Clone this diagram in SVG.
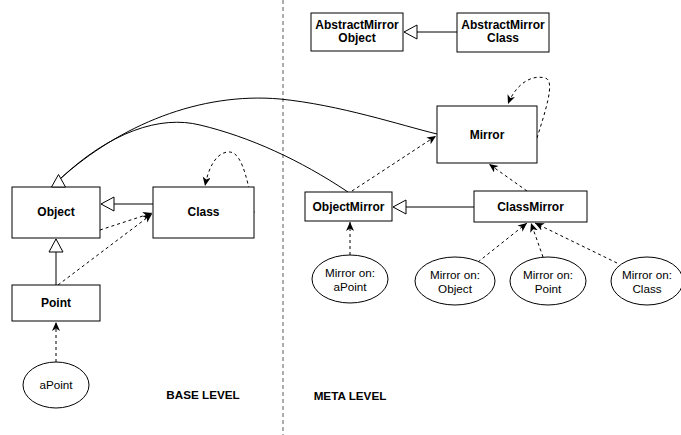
<svg xmlns="http://www.w3.org/2000/svg" width="681" height="435" viewBox="0 0 681 435">
<defs>
<style>
.box{fill:#fff;stroke:#000;stroke-width:1}
.t{font-family:"Liberation Sans",Arial,Helvetica,sans-serif;font-size:11.7px;fill:#000;text-anchor:middle}
.b{font-weight:bold;font-size:12px}
.lvl{font-weight:bold;font-size:11.7px}
.solid{fill:none;stroke:#000;stroke-width:1}
.dash{fill:none;stroke:#000;stroke-width:1;stroke-dasharray:3 3}
</style>
<marker id="tri" markerWidth="16" markerHeight="16" refX="14" refY="8" orient="auto" markerUnits="userSpaceOnUse"><path d="M1,1 L14,8 L1,15 z" fill="#fff" stroke="#000"/></marker>
<marker id="arr" markerWidth="10" markerHeight="10" refX="9" refY="4" orient="auto" markerUnits="userSpaceOnUse"><path d="M0,0 L9,4 L0,8 L2.5,4 z" fill="#000"/></marker>
</defs>
<rect width="681" height="435" fill="#fff"/>
<line x1="283" y1="0" x2="283" y2="435" stroke="#777" stroke-width="1.2" stroke-dasharray="4 3"/>
<g id="connectors">
<path class="solid" d="M60,179 C120,125 200,92 280,99 C340,105 400,125 437,134"/>
<path class="solid" d="M60,179 C110,132 160,115 200,125 C250,137 300,160 348,192"/>
<path class="solid" d="M56,285 L56,239" marker-end="url(#tri)"/>
<path class="solid" d="M153,204 L101,204" marker-end="url(#tri)"/>
<path class="solid" d="M457,32 L404,32" marker-end="url(#tri)"/>
<path class="solid" d="M474,207 L393,207" marker-end="url(#tri)"/>
<path class="dash" d="M100,230 L152,213" marker-end="url(#arr)"/>
<path class="dash" d="M58,285 L152,214" marker-end="url(#arr)"/>
<path class="dash" d="M56,362 L56,322" marker-end="url(#arr)"/>
<path class="dash" d="M254,213 C246,170 240,151 228,152 C215,153 208,170 205,186" marker-end="url(#arr)"/>
<path class="dash" d="M537,138 C545,112 556,80 545,78 C530,74 515,86 508,104" marker-end="url(#arr)"/>
<path class="dash" d="M352,191 L436,136" marker-end="url(#arr)"/>
<path class="dash" d="M527,191 L489,164" marker-end="url(#arr)"/>
<path class="dash" d="M350,255 L350,222" marker-end="url(#arr)"/>
<path class="dash" d="M478,262 L527,223" marker-end="url(#arr)"/>
<path class="dash" d="M543,257 L531,223" marker-end="url(#arr)"/>
<path class="dash" d="M617,263 L535,223" marker-end="url(#arr)"/>
</g>
<g id="object"><rect class="box" x="12" y="187" width="88" height="51"/><text class="t b" x="56" y="216">Object</text>
<polygon points="51.5,187 65.5,187 58.5,174.5" fill="#fff" stroke="#000"/></g>
<g id="class"><rect class="box" x="153" y="187" width="101" height="51"/><text class="t b" x="203.5" y="216">Class</text></g>
<g id="point"><rect class="box" x="12" y="285" width="88" height="36"/><text class="t b" x="56" y="307">Point</text></g>
<g id="apoint"><ellipse class="box" cx="56" cy="385" rx="33" ry="23"/><text class="t" x="56" y="389">aPoint</text></g>
<g id="abstractMirrorObject"><rect class="box" x="311" y="13" width="92" height="38"/><text class="t b" x="357" y="29">AbstractMirror</text><text class="t b" x="357" y="42">Object</text></g>
<g id="abstractMirrorClass"><rect class="box" x="457" y="13" width="92" height="39"/><text class="t b" x="503" y="29">AbstractMirror</text><text class="t b" x="503" y="42">Class</text></g>
<g id="mirror"><rect class="box" x="437" y="106" width="100" height="57"/><text class="t b" x="487" y="139">Mirror</text></g>
<g id="objectMirror"><rect class="box" x="305" y="192" width="87" height="29"/><text class="t b" x="348.5" y="211">ObjectMirror</text></g>
<g id="classMirror"><rect class="box" x="474" y="191" width="113" height="31"/><text class="t b" x="530.5" y="211">ClassMirror</text></g>
<g id="mirrorOnAPoint"><ellipse class="box" cx="350" cy="279" rx="38" ry="24"/><text class="t" x="350" y="277">Mirror on:</text><text class="t" x="350" y="291">aPoint</text></g>
<g id="mirrorOnObject"><ellipse class="box" cx="455" cy="281" rx="40" ry="24"/><text class="t" x="455" y="279">Mirror on:</text><text class="t" x="455" y="293">Object</text></g>
<g id="mirrorOnPoint"><ellipse class="box" cx="548" cy="281" rx="38" ry="24"/><text class="t" x="548" y="279">Mirror on:</text><text class="t" x="548" y="293">Point</text></g>
<g id="mirrorOnClass"><ellipse class="box" cx="647" cy="281" rx="36" ry="24"/><text class="t" x="647" y="279">Mirror on:</text><text class="t" x="647" y="293">Class</text></g>
<text class="t lvl" x="203" y="399">BASE LEVEL</text>
<text class="t lvl" x="350" y="400">META LEVEL</text>
</svg>
